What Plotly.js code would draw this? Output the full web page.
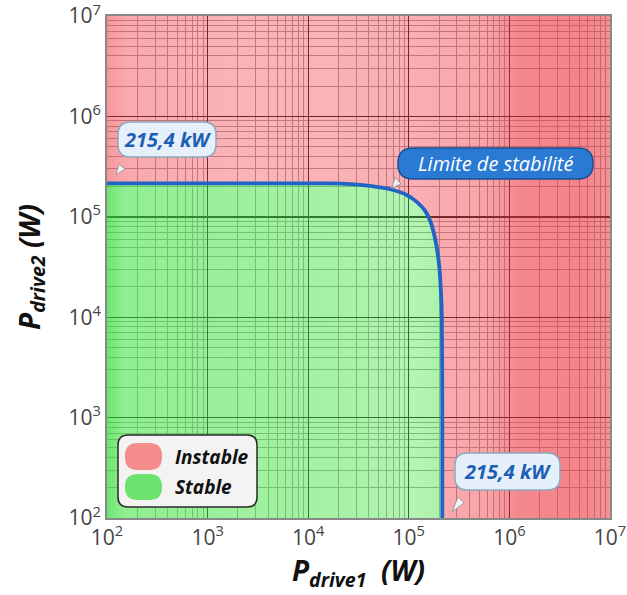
<!DOCTYPE html>
<html>
<head>
<meta charset="utf-8">
<script src="https://cdn.plot.ly/plotly-3.0.1.min.js"></script>
<style>html,body{margin:0;padding:0;background:#fff;}#chart{width:627px;height:595px;}</style>
</head>
<body>
<div id="chart"></div>
<script>
// ---- data ----
const axisMin = 1e2;
const axisMax = 1e7;
const tickVals = [1e2, 1e3, 1e4, 1e5, 1e6, 1e7];
const tickText = ['10<sup>2</sup>', '10<sup>3</sup>', '10<sup>4</sup>', '10<sup>5</sup>', '10<sup>6</sup>', '10<sup>7</sup>'];
// stability limit curve (P_drive1, P_drive2) in W
const limitX = [100, 1000, 10000, 16500, 26100, 41100, 65000, 95300, 120000, 145000, 163000, 178000, 189000, 201000, 209000, 213000, 215400, 215400];
const limitY = [215400, 215400, 215400, 215400, 212000, 203000, 188000, 165000, 141000, 115000, 91200, 67800, 50400, 31800, 17400, 10000, 1000, 100];
const limitValue = '215,4 kW';
const legendLabels = ['Instable', 'Stable'];

// ---- regions ----
const redX = limitX.concat([axisMax, axisMax, axisMin]);
const redY = limitY.concat([axisMin, axisMax, axisMax]);
const greenX = limitX.concat([axisMin]);
const greenY = limitY.concat([axisMin]);

const traces = [
  {
    x: redX, y: redY, type: 'scatter', mode: 'none', fill: 'toself', name: legendLabels[0], showlegend: false,
    fillcolor: 'rgba(240,50,60,0.4)',
    fillgradient: {type: 'horizontal', colorscale: [
      [0, 'rgba(238,50,60,0.50)'], [0.04, 'rgba(240,50,60,0.42)'], [0.3, 'rgba(240,50,60,0.36)'],
      [0.62, 'rgba(240,50,60,0.39)'], [0.76, 'rgba(238,50,60,0.45)'], [0.82, 'rgba(235,50,60,0.58)'],
      [0.94, 'rgba(235,50,60,0.60)'], [1, 'rgba(235,50,60,0.53)']]}
  },
  {
    x: greenX, y: greenY, type: 'scatter', mode: 'none', fill: 'toself', name: legendLabels[1], showlegend: false,
    fillcolor: 'rgba(60,225,60,0.5)',
    fillgradient: {type: 'horizontal', colorscale: [
      [0, 'rgba(50,215,50,0.70)'], [0.05, 'rgba(60,225,60,0.57)'], [0.3, 'rgba(60,225,60,0.52)'],
      [0.7, 'rgba(60,225,60,0.45)'], [0.92, 'rgba(60,225,60,0.38)'], [1, 'rgba(60,225,60,0.44)']]}
  },
  {
    x: limitX, y: limitY, type: 'scatter', mode: 'lines', name: 'Limite de stabilité', showlegend: false,
    line: {color: '#2264c6', width: 3.8, shape: 'spline', smoothing: 0.6}
  }
];

function rrect(x0, y0, x1, y1, rx, ry) {
  return 'M' + (x0 + rx) + ',' + y0 + ' L' + (x1 - rx) + ',' + y0 + ' Q' + x1 + ',' + y0 + ' ' + x1 + ',' + (y0 + ry) +
    ' L' + x1 + ',' + (y1 - ry) + ' Q' + x1 + ',' + y1 + ' ' + (x1 - rx) + ',' + y1 +
    ' L' + (x0 + rx) + ',' + y1 + ' Q' + x0 + ',' + y1 + ' ' + x0 + ',' + (y1 - ry) +
    ' L' + x0 + ',' + (y0 + ry) + ' Q' + x0 + ',' + y0 + ' ' + (x0 + rx) + ',' + y0 + ' Z';
}
function tri(p) { return 'M' + p[0] + ',' + p[1] + ' L' + p[2] + ',' + p[3] + ' L' + p[4] + ',' + p[5] + ' Z'; }

const P = {type: 'path', xref: 'paper', yref: 'paper'};
const shapes = [
  // callout 1
  Object.assign({}, P, {path: tri([0.0179, 0.6833, 0.0239, 0.7052, 0.0358, 0.6952]), fillcolor: '#f4f4f4', line: {color: '#999', width: 1}}),
  Object.assign({}, P, {path: rrect(0.0219, 0.7191, 0.2167, 0.7888, 0.025, 0.025), fillcolor: '#e6f0fa', line: {color: '#8fa6bf', width: 1.5}}),
  // callout 2
  Object.assign({}, P, {path: tri([0.5666, 0.6574, 0.5726, 0.6793, 0.5845, 0.6653]), fillcolor: '#f0f0f0', line: {color: '#999', width: 1}}),
  Object.assign({}, P, {path: rrect(0.5785, 0.6753, 0.9662, 0.7371, 0.03, 0.03), fillcolor: '#2a79d2', line: {color: '#1b4f94', width: 1.5}}),
  // callout 3
  Object.assign({}, P, {path: tri([0.6859, 0.0120, 0.6978, 0.0418, 0.7097, 0.0299]), fillcolor: '#f4f4f4', line: {color: '#999', width: 1}}),
  Object.assign({}, P, {path: rrect(0.6918, 0.0558, 0.9006, 0.1295, 0.025, 0.025), fillcolor: '#e6f0fa', line: {color: '#8fa6bf', width: 1.5}}),
  // legend box
  Object.assign({}, P, {path: rrect(0.0219, 0.0219, 0.2982, 0.1653, 0.02, 0.02), fillcolor: '#f3f3f3', line: {color: '#2a2a2a', width: 1.5}}),
  Object.assign({}, P, {path: rrect(0.0358, 0.0956, 0.1093, 0.1494, 0.025, 0.025), fillcolor: '#f48c8c', line: {width: 0}}),
  Object.assign({}, P, {path: rrect(0.0358, 0.0359, 0.1093, 0.0876, 0.025, 0.025), fillcolor: '#6ee26e', line: {width: 0}})
];

const annFont = {family: 'Open Sans, sans-serif', size: 19};
const A = {xref: 'paper', yref: 'paper', showarrow: false, xanchor: 'center', yanchor: 'middle'};
const annotations = [
  Object.assign({}, A, {x: 0.1193, y: 0.754, text: '<b><i>' + limitValue + '</i></b>', font: Object.assign({}, annFont, {color: '#1d5fb5', size: 20})}),
  Object.assign({}, A, {x: 0.7724, y: 0.7062, text: '<i>Limite de stabilité</i>', font: Object.assign({}, annFont, {color: '#ffffff', size: 20})}),
  Object.assign({}, A, {x: 0.7962, y: 0.0926, text: '<b><i>' + limitValue + '</i></b>', font: Object.assign({}, annFont, {color: '#1d5fb5', size: 20})}),
  Object.assign({}, A, {x: 0.1312, y: 0.1215, xanchor: 'left', text: '<b><i>' + legendLabels[0] + '</i></b>', font: Object.assign({}, annFont, {color: '#111'})}),
  Object.assign({}, A, {x: 0.1312, y: 0.0618, xanchor: 'left', text: '<b><i>' + legendLabels[1] + '</i></b>', font: Object.assign({}, annFont, {color: '#111'})})
];

const axisCommon = {
  type: 'log', range: [2, 7], tickvals: tickVals, ticktext: tickText, ticks: '',
  ticklabeloverflow: 'allow',
  tickfont: {family: 'Open Sans, sans-serif', size: 21, color: '#444'},
  showgrid: true, gridcolor: '#222', gridwidth: 1.4,
  minor: {dtick: 'D1', showgrid: true, gridcolor: '#a4a4a4', gridwidth: 1},
  showline: true, mirror: true, linecolor: '#888', linewidth: 2, zeroline: false
};

const layout = {
  width: 627, height: 595,
  margin: {l: 107, r: 17, t: 16, b: 77},
  paper_bgcolor: '#ffffff', plot_bgcolor: '#ffffff',
  showlegend: false,
  xaxis: Object.assign({}, axisCommon, {
    title: {text: '<b><i>P<sub>drive1</sub>\u00a0\u00a0(W)</i></b>', font: {family: 'Open Sans, sans-serif', size: 28, color: '#111'}, standoff: 8}
  }),
  yaxis: Object.assign({}, axisCommon, {
    title: {text: '<b><i>P<sub>drive2</sub> (W)</i></b>', font: {family: 'Open Sans, sans-serif', size: 28, color: '#111'}, standoff: 20}
  }),
  shapes: shapes,
  annotations: annotations
};

Plotly.newPlot('chart', traces, layout, {displayModeBar: false, staticPlot: true});
</script>
</body>
</html>
